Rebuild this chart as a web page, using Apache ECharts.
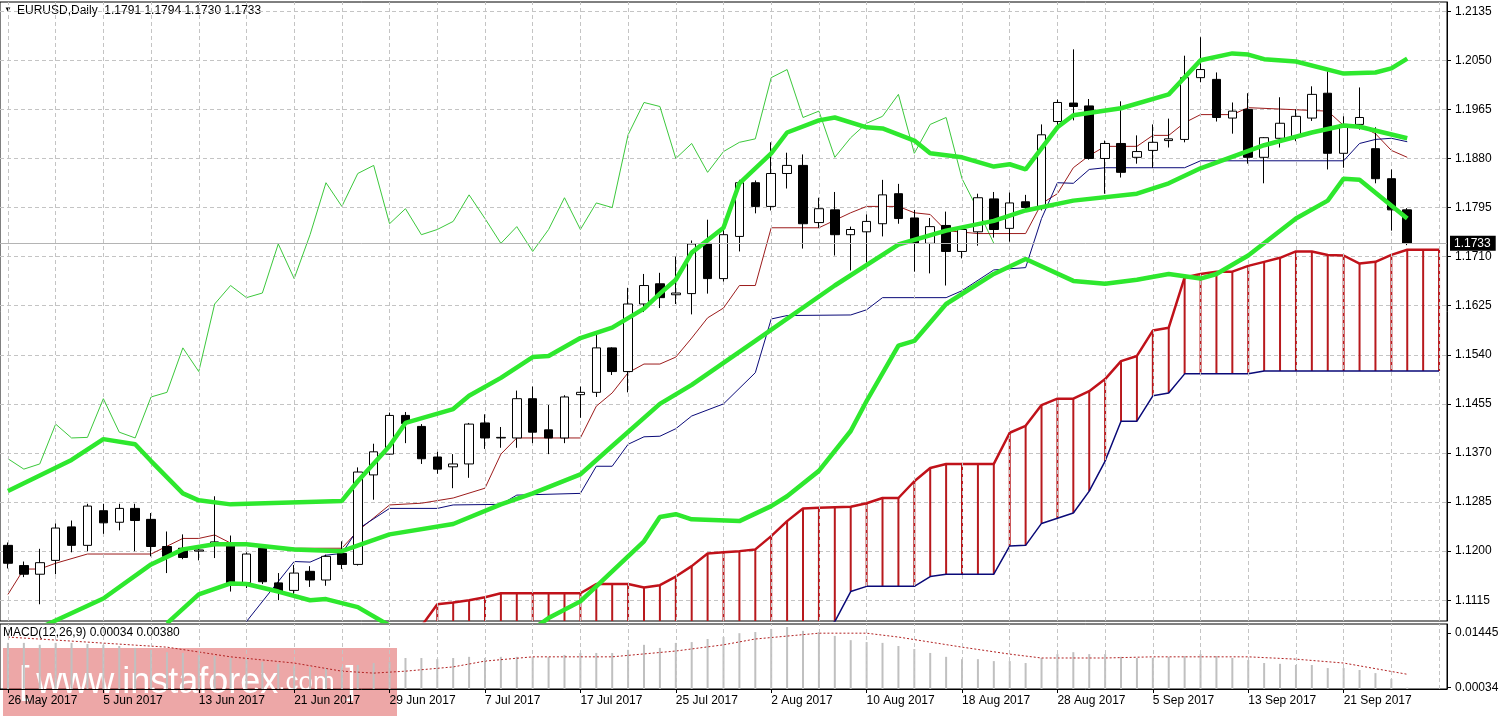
<!DOCTYPE html>
<html>
<head>
<meta charset="utf-8">
<script src="https://cdn.jsdelivr.net/npm/echarts@6/dist/echarts.min.js"></script>
<style>
  html, body { margin: 0; padding: 0; background: #fff; }
  #chart { width: 1503px; height: 717px; }
</style>
</head>
<body>
<div id="chart"></div>
<script>
// 交易日（含未来两格，用于云图延伸）
const dates = [
  '26 May', '29 May', '30 May', '31 May', '1 Jun', '2 Jun',
  '5 Jun', '6 Jun', '7 Jun', '8 Jun', '9 Jun', '12 Jun',
  '13 Jun', '14 Jun', '15 Jun', '16 Jun', '19 Jun', '20 Jun',
  '21 Jun', '22 Jun', '23 Jun', '26 Jun', '27 Jun', '28 Jun',
  '29 Jun', '30 Jun', '3 Jul', '4 Jul', '5 Jul', '6 Jul',
  '7 Jul', '10 Jul', '11 Jul', '12 Jul', '13 Jul', '14 Jul',
  '17 Jul', '18 Jul', '19 Jul', '20 Jul', '21 Jul', '24 Jul',
  '25 Jul', '26 Jul', '27 Jul', '28 Jul', '31 Jul', '1 Aug',
  '2 Aug', '3 Aug', '4 Aug', '7 Aug', '8 Aug', '9 Aug',
  '10 Aug', '11 Aug', '14 Aug', '15 Aug', '16 Aug', '17 Aug',
  '18 Aug', '21 Aug', '22 Aug', '23 Aug', '24 Aug', '25 Aug',
  '28 Aug', '29 Aug', '30 Aug', '31 Aug', '1 Sep', '4 Sep',
  '5 Sep', '6 Sep', '7 Sep', '8 Sep', '11 Sep', '12 Sep',
  '13 Sep', '14 Sep', '15 Sep', '18 Sep', '19 Sep', '20 Sep',
  '21 Sep', '22 Sep', '25 Sep', '26 Sep', '27 Sep', '28 Sep', '29 Sep'
];

const opens = [
  1.1210, 1.1175, 1.1160, 1.1184, 1.1242, 1.1210, 1.1270, 1.1250, 1.1274, 1.1255,
  1.1208, 1.1205, 1.1200, 1.1210, 1.1210, 1.1145, 1.1205, 1.1145, 1.1132, 1.1165,
  1.1150, 1.1196, 1.1177, 1.1332, 1.1368, 1.1435, 1.1416, 1.1363, 1.1346, 1.1351,
  1.1422, 1.1396, 1.1396, 1.1464, 1.1410, 1.1396, 1.1471, 1.1475, 1.1552, 1.1511,
  1.1628, 1.1663, 1.1644, 1.1646, 1.1733, 1.1672, 1.1745, 1.1838, 1.1797, 1.1854,
  1.1868, 1.1769, 1.1791, 1.1748, 1.1753, 1.1767, 1.1819, 1.1777, 1.1733, 1.1764,
  1.1719, 1.1753, 1.1810, 1.1759, 1.1805, 1.1797, 1.1944, 1.1976, 1.1971, 1.1880,
  1.1906, 1.1882, 1.1894, 1.1911, 1.1913, 1.2020, 1.2017, 1.1950, 1.1965, 1.1882,
  1.1915, 1.1918, 1.1950, 1.1993, 1.1889, 1.1939, 1.1897, 1.1845, 1.1791
];
const closes = [
  1.1179, 1.1160, 1.1180, 1.1240, 1.1210, 1.1278, 1.1249, 1.1274, 1.1253, 1.1208,
  1.1191, 1.1189, 1.1202, 1.1216, 1.1145, 1.1195, 1.1147, 1.1130, 1.1162, 1.1150,
  1.1191, 1.1177, 1.1337, 1.1372, 1.1435, 1.1421, 1.1360, 1.1342, 1.1351, 1.1420,
  1.1396, 1.1397, 1.1464, 1.1406, 1.1396, 1.1467, 1.1475, 1.1552, 1.1511, 1.1628,
  1.1660, 1.1639, 1.1647, 1.1732, 1.1672, 1.1748, 1.1838, 1.1797, 1.1854, 1.1868,
  1.1767, 1.1793, 1.1748, 1.1757, 1.1771, 1.1817, 1.1776, 1.1733, 1.1762, 1.1719,
  1.1757, 1.1812, 1.1757, 1.1803, 1.1795, 1.1921, 1.1977, 1.1970, 1.1880, 1.1906,
  1.1856, 1.1892, 1.1908, 1.1914, 1.2020, 1.2034, 1.1951, 1.1962, 1.1882, 1.1916,
  1.1941, 1.1953, 1.1991, 1.1889, 1.1939, 1.1951, 1.1845, 1.1791, 1.1733
];
const highs = [
  1.1215, 1.1182, 1.1204, 1.1248, 1.1253, 1.1282, 1.1282, 1.1282, 1.1282, 1.1266,
  1.1234, 1.1229, 1.1210, 1.1295, 1.1227, 1.1198, 1.1208, 1.1162, 1.1176, 1.1174,
  1.1194, 1.1217, 1.1345, 1.1386, 1.1440, 1.1441, 1.1420, 1.1372, 1.1368, 1.1422,
  1.1437, 1.1415, 1.1478, 1.1485, 1.1453, 1.1470, 1.1485, 1.1576, 1.1553, 1.1656,
  1.1680, 1.1682, 1.1710, 1.1738, 1.1774, 1.1762, 1.1843, 1.1842, 1.1908, 1.1890,
  1.1887, 1.1812, 1.1822, 1.1762, 1.1783, 1.1843, 1.1836, 1.1791, 1.1777, 1.1788,
  1.1757, 1.1819, 1.1822, 1.1821, 1.1817, 1.1939, 1.1982, 1.2069, 1.1983, 1.1911,
  1.1979, 1.1920, 1.1939, 1.1949, 1.2058, 1.2090, 1.2029, 1.1977, 1.1993, 1.1917,
  1.1986, 1.1965, 1.2005, 1.2031, 1.1953, 1.2003, 1.1934, 1.1861, 1.1794
];
const lows = [
  1.1170, 1.1155, 1.1108, 1.1160, 1.1198, 1.1200, 1.1230, 1.1236, 1.1200, 1.1191,
  1.1162, 1.1186, 1.1184, 1.1188, 1.1130, 1.1136, 1.1143, 1.1115, 1.1126, 1.1138,
  1.1140, 1.1169, 1.1175, 1.1289, 1.1367, 1.1387, 1.1351, 1.1334, 1.1309, 1.1327,
  1.1377, 1.1379, 1.1379, 1.1387, 1.1368, 1.1387, 1.1431, 1.1467, 1.1505, 1.1475,
  1.1614, 1.1621, 1.1628, 1.1610, 1.1646, 1.1667, 1.1719, 1.1785, 1.1790, 1.1828,
  1.1724, 1.1760, 1.1712, 1.1686, 1.1700, 1.1745, 1.1767, 1.1684, 1.1681, 1.1660,
  1.1707, 1.1729, 1.1743, 1.1736, 1.1790, 1.1790, 1.1930, 1.1946, 1.1878, 1.1819,
  1.1847, 1.1871, 1.1864, 1.1899, 1.1908, 1.2012, 1.1944, 1.1923, 1.1871, 1.1837,
  1.1899, 1.1910, 1.1945, 1.1861, 1.1864, 1.1930, 1.1837, 1.1755, 1.1730
];

// 布林带（上/中/下轨），[序号, 价格]
const bbUpper = [
  [0, 1.1304], [4, 1.1358], [6, 1.1394], [8, 1.1385], [9, 1.1356], [11, 1.1300],
  [12, 1.1288], [14, 1.1281], [21, 1.1287], [22, 1.1321], [24, 1.1382], [25, 1.1422],
  [28, 1.1446], [29, 1.1469], [31, 1.1500], [33, 1.1536], [34, 1.1538], [36, 1.1569],
  [38, 1.1587], [40, 1.1620], [41, 1.1646], [42, 1.1670], [43, 1.1717], [45, 1.1760],
  [46, 1.1837], [48, 1.1889], [49, 1.1925], [51, 1.1946], [52, 1.1951], [54, 1.1934],
  [55, 1.1932], [57, 1.1911], [58, 1.1889], [60, 1.1882], [62, 1.1866], [63, 1.1870],
  [64, 1.1861], [66, 1.1934], [67, 1.1955], [70, 1.1967], [73, 1.1991], [75, 1.2050],
  [77, 1.2062], [78, 1.2060], [79, 1.2052], [81, 1.2048], [84, 1.2027], [86, 1.2029],
  [87, 1.2036], [88, 1.2053]
];
const bbMiddle = [
  [0, 1.1040], [3, 1.1080], [6, 1.1118], [9, 1.1177], [11, 1.1203], [13, 1.1212],
  [15, 1.1212], [18, 1.1203], [21, 1.1200], [24, 1.1229], [28, 1.1247], [31, 1.1281],
  [33, 1.1300], [36, 1.1333], [38, 1.1382], [41, 1.1455], [43, 1.1488], [47, 1.1564],
  [52, 1.1660], [56, 1.1731], [59, 1.1755], [62, 1.1772], [64, 1.1790], [67, 1.1807],
  [71, 1.1819], [73, 1.1837], [75, 1.1863], [79, 1.1903], [82, 1.1925], [84, 1.1937],
  [85, 1.1935], [88, 1.1915]
];
const bbLower = [
  [10, 1.1075], [12, 1.1125], [14, 1.1144], [15, 1.1143], [17, 1.1130], [19, 1.1115],
  [20, 1.1117], [22, 1.1103], [25, 1.1055], [32, 1.1045], [34, 1.1084], [36, 1.1113],
  [38, 1.1165], [40, 1.1217], [41, 1.1259], [42, 1.1264], [43, 1.1255], [46, 1.1252],
  [48, 1.1278], [49, 1.1295], [51, 1.1339], [53, 1.1408], [54, 1.1460], [56, 1.1556],
  [57, 1.1564], [59, 1.1628], [62, 1.1680], [64, 1.1706], [67, 1.1668], [69, 1.1663],
  [71, 1.1670], [73, 1.1680], [75, 1.1672], [76, 1.1680], [78, 1.1712], [81, 1.1776],
  [83, 1.1807], [84, 1.1845], [85, 1.1843], [88, 1.1776]
];

// 一目均衡表：转换线、基准线
const tenkan = [
  [0, 1.1125], [1, 1.1169], [2, 1.1169], [3, 1.1179], [5, 1.1195], [9, 1.1195],
  [11, 1.1222], [12, 1.1222], [13, 1.1228], [14, 1.1214], [18, 1.1205], [21, 1.1205],
  [22, 1.1235], [24, 1.1280], [26, 1.1283], [28, 1.1292], [30, 1.1309], [31, 1.1368],
  [32, 1.1396], [36, 1.1396], [37, 1.1451], [38, 1.1474], [39, 1.1509], [40, 1.1524],
  [41, 1.1524], [42, 1.1536], [43, 1.1569], [44, 1.1604], [45, 1.1621], [46, 1.1660],
  [47, 1.1660], [48, 1.1760], [51, 1.1760], [53, 1.1786], [54, 1.1797], [56, 1.1797],
  [57, 1.1786], [58, 1.1783], [59, 1.1755], [61, 1.1750], [64, 1.1750], [65, 1.1802],
  [66, 1.1819], [67, 1.1864], [68, 1.1885], [69, 1.1901], [71, 1.1901], [72, 1.1920],
  [73, 1.1920], [74, 1.1942], [75, 1.1956], [77, 1.1956], [78, 1.1968], [83, 1.1962],
  [84, 1.1937], [85, 1.1937], [86, 1.1923], [87, 1.1894], [88, 1.1882]
];
const kijun = [
  [14, 1.1040], [15, 1.1078], [18, 1.1182], [19, 1.1181], [20, 1.1193], [21, 1.1196],
  [22, 1.1238], [24, 1.1274], [27, 1.1274], [28, 1.1280], [31, 1.1281], [32, 1.1297],
  [36, 1.1300], [37, 1.1347], [38, 1.1347], [39, 1.1385], [40, 1.1398], [41, 1.1399],
  [42, 1.1412], [43, 1.1434], [45, 1.1455], [47, 1.1509], [48, 1.1602], [49, 1.1608],
  [53, 1.1609], [54, 1.1618], [55, 1.1639], [59, 1.1639], [60, 1.1651], [62, 1.1687],
  [64, 1.1691], [65, 1.1776], [66, 1.1838], [67, 1.1837], [68, 1.1861], [69, 1.1864],
  [74, 1.1864], [75, 1.1876], [84, 1.1876], [85, 1.1906], [86, 1.1913], [87, 1.1915],
  [88, 1.1909]
];

// 云图：先行带A、先行带B（从序号26开始）
const senkouStart = 26;
const senkouA = [
  1.1070, 1.1108, 1.1111, 1.1115, 1.1120, 1.1127, 1.1127, 1.1127, 1.1127, 1.1127,
  1.1127, 1.1143, 1.1143, 1.1143, 1.1137, 1.1141, 1.1156, 1.1174, 1.1196, 1.1198,
  1.1200, 1.1203, 1.1226, 1.1252, 1.1274, 1.1275, 1.1276, 1.1277, 1.1283, 1.1292,
  1.1292, 1.1321, 1.1344, 1.1351, 1.1351, 1.1351, 1.1351, 1.1405, 1.1417, 1.1453,
  1.1464, 1.1464, 1.1477, 1.1498, 1.1529, 1.1538, 1.1582, 1.1587, 1.1674, 1.1680,
  1.1684, 1.1684, 1.1694, 1.1701, 1.1708, 1.1719, 1.1719, 1.1713, 1.1712, 1.1698,
  1.1701, 1.1713, 1.1722, 1.1722, 1.1722
];
const senkouB = [
  1.1040, 1.1040, 1.1040, 1.1040, 1.1040, 1.1040, 1.1040, 1.1040, 1.1040, 1.1040,
  1.1040, 1.1040, 1.1040, 1.1040, 1.1040, 1.1040, 1.1040, 1.1040, 1.1040, 1.1040,
  1.1040, 1.1040, 1.1040, 1.1040, 1.1050, 1.1061, 1.1078, 1.1130, 1.1139, 1.1139,
  1.1139, 1.1139, 1.1156, 1.1160, 1.1160, 1.1160, 1.1160, 1.1209, 1.1210, 1.1248,
  1.1257, 1.1266, 1.1304, 1.1356, 1.1425, 1.1425, 1.1469, 1.1474, 1.1507, 1.1507,
  1.1507, 1.1507, 1.1507, 1.1512, 1.1512, 1.1512, 1.1512, 1.1512, 1.1512, 1.1512,
  1.1512, 1.1512, 1.1512, 1.1512, 1.1512
];

// MACD 柱与信号线
const macdHist = [
  0.0119, 0.0119, 0.0114, 0.0119, 0.0119, 0.0116, 0.0114, 0.0111, 0.0106, 0.0101,
  0.0095, 0.0093, 0.0088, 0.0085, 0.0080, 0.0075, 0.0070, 0.0065, 0.0059, 0.0057,
  0.0054, 0.0057, 0.0062, 0.0067, 0.0070, 0.0080, 0.0080, 0.0077, 0.0080, 0.0083,
  0.0080, 0.0083, 0.0083, 0.0083, 0.0083, 0.0088, 0.0093, 0.0093, 0.0093, 0.0101,
  0.0114, 0.0106, 0.0119, 0.0121, 0.0129, 0.0134, 0.0144, 0.0147, 0.0155, 0.0160,
  0.0150, 0.0147, 0.0137, 0.0126, 0.0121, 0.0119, 0.0111, 0.0103, 0.0093, 0.0083,
  0.0077, 0.0077, 0.0072, 0.0072, 0.0067, 0.0080, 0.0090, 0.0095, 0.0090, 0.0090,
  0.0083, 0.0080, 0.0080, 0.0083, 0.0085, 0.0090, 0.0085, 0.0080, 0.0075, 0.0067,
  0.0065, 0.0062, 0.0062, 0.0054, 0.0054, 0.0049, 0.0041, 0.0026, 0.00034
];
const macdSignal = [
  [0, 0.0134], [5, 0.0121], [10, 0.0108], [14, 0.0083], [18, 0.0067], [21, 0.0046],
  [23, 0.0041], [25, 0.0046], [28, 0.0057], [30, 0.0072], [33, 0.0083], [38, 0.0083],
  [42, 0.0098], [45, 0.0114], [47, 0.0129], [51, 0.0144], [54, 0.0144], [56, 0.0134],
  [60, 0.0108], [63, 0.0090], [65, 0.0080], [69, 0.0080], [72, 0.0083], [78, 0.0083],
  [81, 0.0077], [84, 0.0067], [88, 0.0038]
];

// 刻度
const priceTicks = [1.2135, 1.2050, 1.1965, 1.1880, 1.1795, 1.1710, 1.1625, 1.1540, 1.1455, 1.1370, 1.1285, 1.1200, 1.1115];
const lastPrice = 1.1733;
const macdTicks = [0.01445, 0.00034];

const FONT = 'Liberation Sans';
const GRID_LINE = { color: '#c4c4c4', type: [4, 3], width: 1 };
const PRICE_MIN = 1.1079;
const PRICE_MAX = 1.2151;

// 每3根K线一条竖向网格
const vLines = dates.map((d, i) => i).filter(i => i % 3 === 0).map(i => ({ xAxis: i }));

const candleData = opens.map((o, i) => [o, closes[i], lows[i], highs[i]]);
const chikou = closes.slice(26).map((c, i) => [i, c]);
const cloudData = senkouA.map((a, k) => [senkouStart + k, a, senkouB[k]]);

const lineSeries = (name, data, color, width, z) => ({
  name,
  type: 'line',
  data,
  symbol: 'none',
  smooth: false,
  silent: true,
  z,
  lineStyle: { color, width }
});

const myChart = echarts.init(document.getElementById('chart'));

const options = {
  animation: false,
  backgroundColor: '#fff',
  textStyle: { fontFamily: FONT },
  graphic: [
    { type: 'text', left: 4, top: 6, style: { text: '▼', fontSize: 8, fill: '#000', fontFamily: FONT } },
    { type: 'text', left: 17, top: 5, style: { text: 'EURUSD,Daily  1.1791 1.1794 1.1730 1.1733', fontSize: 12, fill: '#000', fontFamily: FONT } },
    { type: 'text', left: 3, top: 627, style: { text: 'MACD(12,26,9) 0.00034 0.00380', fontSize: 12, fill: '#000', fontFamily: FONT } },
    {
      type: 'group', left: 3, top: 648, z: 100,
      children: [
        { type: 'rect', shape: { x: 0, y: 0, width: 394, height: 68 }, style: { fill: 'rgba(214,60,60,0.45)' } },
        {
          type: 'text', x: 16, y: 16,
          style: {
            text: '{b|[}  {w|www.instaforex}{c|.com}{b| ]}',
            fill: '#fff',
            rich: {
              b: { fontSize: 38, fill: '#fff', fontFamily: FONT },
              w: { fontSize: 36, fill: '#fff', fontFamily: FONT },
              c: { fontSize: 26, fill: '#fff', fontFamily: FONT }
            }
          }
        }
      ]
    }
  ],
  grid: [
    { left: -9, width: 1456, top: 2, height: 619, show: true, borderColor: '#000', borderWidth: 1, backgroundColor: '#fff' },
    { left: -9, width: 1456, top: 624, height: 65, show: true, borderColor: '#000', borderWidth: 1, backgroundColor: '#fff' }
  ],
  xAxis: [
    {
      type: 'category', gridIndex: 0, data: dates,
      axisLine: { show: false }, axisTick: { show: false }, axisLabel: { show: false }, splitLine: { show: false }
    },
    {
      type: 'category', gridIndex: 1, data: dates,
      axisLine: { lineStyle: { color: '#000' } },
      axisTick: { show: true, interval: i => i % 6 === 0 && i <= 84, alignWithLabel: true, length: 4, lineStyle: { color: '#000' } },
      axisLabel: {
        interval: i => i % 6 === 0 && i <= 84, align: 'left', margin: 6, color: '#000', fontSize: 12, fontFamily: FONT,
        formatter: v => v + ' 2017'
      },
      splitLine: { show: false }
    }
  ],
  yAxis: [
    {
      type: 'value', gridIndex: 0, position: 'right', min: PRICE_MIN, max: PRICE_MAX,
      axisLine: { show: true, lineStyle: { color: '#000' } },
      axisTick: { show: true, length: 4, customValues: priceTicks, lineStyle: { color: '#000' } },
      axisLabel: { customValues: priceTicks, margin: 8, color: '#000', fontSize: 12, fontFamily: FONT, formatter: v => v.toFixed(4) },
      splitLine: { show: true, lineStyle: GRID_LINE }
    },
    {
      type: 'value', gridIndex: 1, position: 'right', min: 0, max: 0.01677,
      axisLine: { show: true, lineStyle: { color: '#000' } },
      axisTick: { show: true, length: 4, customValues: macdTicks, lineStyle: { color: '#000' } },
      axisLabel: { customValues: macdTicks, margin: 8, color: '#000', fontSize: 12, fontFamily: FONT, formatter: v => v.toFixed(5) },
      splitLine: { show: false }
    },
    // 现价线与标签
    {
      type: 'value', gridIndex: 0, position: 'right', min: PRICE_MIN, max: PRICE_MAX, z: 8,
      axisLine: { show: false },
      axisTick: { show: false, customValues: [lastPrice] },
      axisLabel: {
        customValues: [lastPrice], margin: 3, color: '#fff', backgroundColor: '#000',
        padding: [2, 5, 1, 4], fontSize: 12, fontFamily: FONT, formatter: v => v.toFixed(4)
      },
      splitLine: { show: true, lineStyle: { color: '#b4b4b4', type: 'solid', width: 1 } }
    }
  ],
  series: [
    // 竖向网格
    {
      name: 'grid', type: 'candlestick', data: candleData, silent: true, z: 1,
      itemStyle: { opacity: 0 },
      markLine: {
        symbol: 'none', silent: true, animation: false,
        lineStyle: GRID_LINE,
        label: { show: false },
        data: vLines
      }
    },
    // 云图竖线
    {
      name: 'cloud', type: 'custom', data: cloudData, clip: true, silent: true, z: 2,
      renderItem: (params, api) => {
        const a = api.coord([api.value(0), api.value(1)]);
        const b = api.coord([api.value(0), api.value(2)]);
        return {
          type: 'line',
          shape: { x1: a[0], y1: a[1], x2: b[0], y2: b[1] },
          style: { stroke: '#b8191d', lineWidth: 2 }
        };
      }
    },
    lineSeries('senkouA', senkouA.map((v, k) => [senkouStart + k, v]), '#c0121a', 2.5, 3),
    lineSeries('senkouB', senkouB.map((v, k) => [senkouStart + k, v]), '#0a0a78', 1.5, 3),
    lineSeries('chikou', chikou, '#3cc83c', 1, 3),
    lineSeries('tenkan', tenkan, '#9c1c1c', 1, 4),
    lineSeries('kijun', kijun, '#0a0a78', 1, 4),
    {
      name: 'EURUSD', type: 'candlestick', data: candleData, barWidth: 9, z: 5, silent: true,
      itemStyle: { color: '#fff', color0: '#000', borderColor: '#000', borderColor0: '#000', borderWidth: 1 }
    },
    lineSeries('bbUpper', bbUpper, '#2ee82e', 4.5, 6),
    lineSeries('bbMiddle', bbMiddle, '#2ee82e', 4.5, 6),
    lineSeries('bbLower', bbLower, '#2ee82e', 4.5, 6),
    // MACD
    {
      name: 'MACD', type: 'bar', data: macdHist, xAxisIndex: 1, yAxisIndex: 1, barWidth: 2, silent: true, z: 2,
      itemStyle: { color: '#c0c0c0' },
      markLine: {
        symbol: 'none', silent: true, animation: false,
        lineStyle: GRID_LINE,
        label: { show: false },
        data: vLines
      }
    },
    {
      name: 'Signal', type: 'line', data: macdSignal, xAxisIndex: 1, yAxisIndex: 1, symbol: 'none', silent: true, z: 3,
      lineStyle: { color: '#b22222', width: 1, type: [2, 2] }
    }
  ]
};

myChart.setOption(options);
</script>
</body>
</html>
